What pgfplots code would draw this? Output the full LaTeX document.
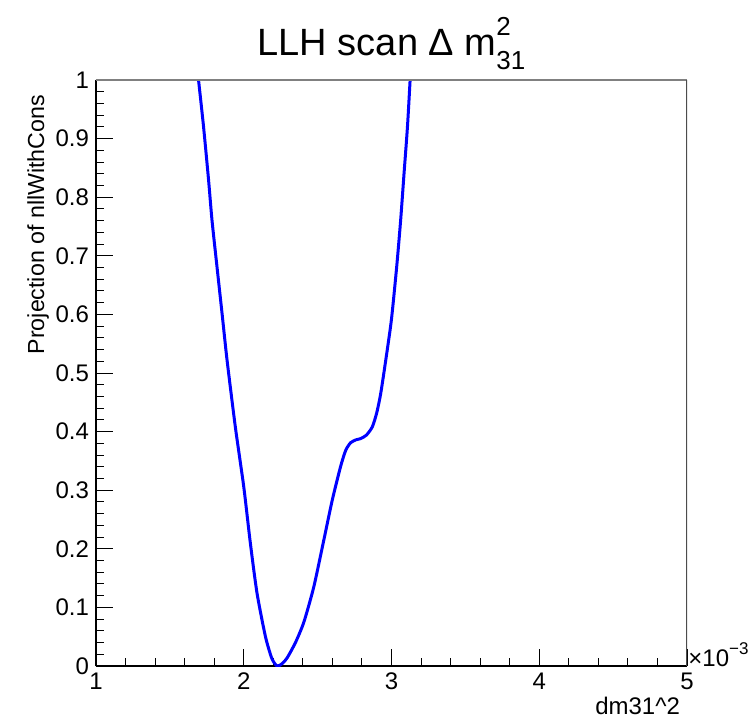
\documentclass[border=0pt]{standalone}
\usepackage{fontspec}
\setmainfont{Liberation Sans}
\usepackage{pgfplots}
\pgfplotsset{compat=1.18}

\definecolor{rootblue}{RGB}{0,0,255}

% likelihood scan, x in units of eV^2
\pgfplotstableread{
x        y
1.673e-3 1.05
1.694e-3 1.000
1.728e-3 0.920
1.762e-3 0.829
1.785e-3 0.761
1.819e-3 0.681
1.853e-3 0.602
1.887e-3 0.522
1.943e-3 0.408
2.000e-3 0.306
2.045e-3 0.209
2.090e-3 0.124
2.147e-3 0.050
2.190e-3 0.013
2.225e-3 0.000
2.260e-3 0.004
2.294e-3 0.014
2.350e-3 0.040
2.407e-3 0.075
2.474e-3 0.135
2.542e-3 0.215
2.599e-3 0.283
2.655e-3 0.340
2.690e-3 0.368
2.723e-3 0.381
2.760e-3 0.386
2.791e-3 0.388
2.830e-3 0.394
2.870e-3 0.408
2.900e-3 0.432
2.927e-3 0.465
2.960e-3 0.520
2.999e-3 0.590
3.035e-3 0.681
3.062e-3 0.761
3.085e-3 0.841
3.108e-3 0.920
3.126e-3 1.000
3.137e-3 1.05
}\scan

\begin{document}
\begin{tikzpicture}
\path[use as bounding box] (-48pt,-26pt) rectangle (326pt,333pt);
\begin{axis}[
  at={(0,0)}, anchor=south west,
  scale only axis, width=295.5pt, height=293pt,
  xmin=1e-3, xmax=5e-3, ymin=0, ymax=1,
  xtick={1e-3,2e-3,3e-3,4e-3,5e-3},
  ytick={0,0.1,0.2,0.3,0.4,0.5,0.6,0.7,0.8,0.9,1},
  minor x tick num=4, minor y tick num=4,
  scaled x ticks=manual:{×10\raisebox{0.5em}{\fontsize{8.5}{9}\selectfont −3}}{\pgfmathparse{#1*1000}},
  every x tick scale label/.style={at={(rel axis cs:1,0)}, anchor=base west,
    inner sep=0.5pt, font=\fontsize{12}{14}\selectfont},
  xticklabel style={/pgf/number format/fixed},
  yticklabel style={/pgf/number format/fixed, /pgf/number format/precision=1},
  tick align=inside, major tick length=8.5pt, minor tick length=4pt,
  axis x line*=bottom, axis y line*=left,
  axis line style={-, black, line width=0.6pt},
  tick style={black, line width=0.5pt},
  tick label style={font=\fontsize{12}{14}\selectfont},
  /pgf/number format/assume math mode=true,
]
\addplot[rootblue, line width=1.5pt, smooth, tension=0.4] table {\scan};
\draw[gray, line width=1pt] (rel axis cs:0,1) -- (rel axis cs:1,1);
\draw[black!70, line width=1pt] (rel axis cs:1,1) -- (rel axis cs:1,0);
\end{axis}
\node[anchor=base, font=\fontsize{19}{22}\selectfont] at (147.75pt,305pt)
  {LLH scan Δ m\rlap{\raisebox{0.55em}{\fontsize{13}{13}\selectfont 2}}\raisebox{-0.35em}{\fontsize{13}{13}\selectfont 31}};
\node[rotate=90, anchor=base east, font=\fontsize{11.6}{14}\selectfont] at (-26pt,289pt)
  {Projection of nllWithCons};
\node[anchor=base east, font=\fontsize{12}{14}\selectfont] at (295.5pt,-24pt)
  {dm31\textasciicircum 2};
\end{tikzpicture}
\end{document}
